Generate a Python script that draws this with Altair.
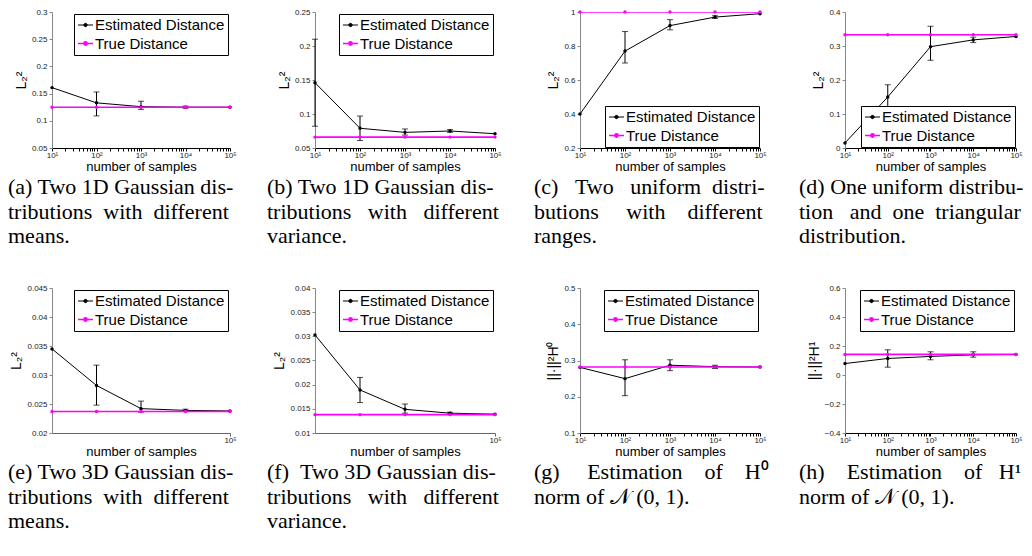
import altair as alt
import pandas as pd

samples = [10, 100, 1000, 10000, 100000]
x_major = [10, 100, 1000, 10000, 100000]
x_minor = [20, 30, 40, 50, 60, 70, 80, 90,
           200, 300, 400, 500, 600, 700, 800, 900,
           2000, 3000, 4000, 5000, 6000, 7000, 8000, 9000,
           20000, 30000, 40000, 50000, 60000, 70000, 80000, 90000]
series_names = ["Estimated Distance", "True Distance"]

# (a)
a_est = [0.161, 0.133, 0.126, 0.125, 0.125]
a_lo = [None, 0.109, 0.121, 0.123, None]
a_hi = [None, 0.153, 0.136, 0.127, None]
a_true = 0.125
a_yticks = [0.05, 0.1, 0.15, 0.2, 0.25, 0.3]
# (b)
b_est = [0.146, 0.079, 0.073, 0.075, 0.071]
b_lo = [0.082, 0.061, 0.069, 0.073, None]
b_hi = [0.210, 0.097, 0.078, 0.077, None]
b_true = 0.066
b_yticks = [0.05, 0.1, 0.15, 0.2, 0.25]
# (c)
c_est = [0.40, 0.77, 0.92, 0.97, 0.99]
c_lo = [None, 0.70, 0.895, 0.962, None]
c_hi = [None, 0.885, 0.955, 0.978, None]
c_true = 1.0
c_yticks = [0.2, 0.4, 0.6, 0.8, 1]
# (d)
d_est = [0.015, 0.15, 0.298, 0.318, 0.328]
d_lo = [None, 0.114, 0.258, 0.310, None]
d_hi = [None, 0.186, 0.358, 0.326, None]
d_true = 0.333
d_yticks = [0, 0.1, 0.2, 0.3, 0.4]
# (e)
e_est = [0.0345, 0.0282, 0.0242, 0.0239, 0.0238]
e_lo = [None, 0.0248, 0.0236, 0.0237, None]
e_hi = [None, 0.0317, 0.0255, 0.0241, None]
e_true = 0.0237
e_yticks = [0.02, 0.025, 0.03, 0.035, 0.04, 0.045]
# (f)
f_est = [0.0303, 0.0189, 0.0149, 0.0141, 0.0139]
f_lo = [None, 0.0163, 0.0141, 0.0139, None]
f_hi = [None, 0.0215, 0.0160, 0.0143, None]
f_true = 0.0138
f_yticks = [0.01, 0.015, 0.02, 0.025, 0.03, 0.035, 0.04]
# (g)
g_est = [0.281, 0.25, 0.287, 0.283, 0.282]
g_lo = [None, 0.203, 0.272, 0.278, None]
g_hi = [None, 0.302, 0.302, 0.287, None]
g_true = 0.282
g_yticks = [0.1, 0.2, 0.3, 0.4, 0.5]
# (h)
h_est = [0.079, 0.114, 0.128, 0.139, 0.142]
h_lo = [None, 0.054, 0.105, 0.123, None]
h_hi = [None, 0.174, 0.160, 0.160, None]
h_true = 0.142
h_yticks = [-0.4, -0.2, 0, 0.2, 0.4, 0.6]

l2_title = "L\u2082\u00b2"
captions = {
    "a": ["(a) Two 1D Gaussian dis-", "tributions with different", "means."],
    "b": ["(b) Two 1D Gaussian dis-", "tributions with different", "variance."],
    "c": ["(c) Two uniform distri-", "butions with different", "ranges."],
    "d": ["(d) One uniform distribu-", "tion and one triangular", "distribution."],
    "e": ["(e) Two 3D Gaussian dis-", "tributions with different", "means."],
    "f": ["(f) Two 3D Gaussian dis-", "tributions with different", "variance."],
    "g": ["(g) Estimation of H\u2070", "norm of \U0001D4A9 (0, 1)."],
    "h": ["(h) Estimation of H\u00b9", "norm of \U0001D4A9 (0, 1)."],
}

CAP_FS = 22
# Times-like advance widths (em) used only to spread caption words like justified text
_TW = {" ": .25, "(": .333, ")": .333, "-": .333, ".": .25, ",": .25, "a": .444, "b": .5,
       "c": .444, "d": .5, "e": .444, "f": .333, "g": .5, "h": .5, "i": .278, "l": .278,
       "m": .778, "n": .5, "o": .5, "p": .5, "r": .333, "s": .389, "t": .278, "u": .5,
       "v": .5, "w": .722, "y": .5, "T": .611, "D": .722, "G": .722, "O": .722, "E": .611,
       "H": .722, "1": .5, "3": .5, "0": .5, "\u2070": .3, "\u00b9": .3}


def justify(lines, target):
    out = []
    for k, line in enumerate(lines):
        if k == len(lines) - 1:
            out.append(line)
            continue
        words = line.split(" ")
        gaps = len(words) - 1
        nat = sum(_TW.get(ch, .5) for ch in line) * CAP_FS
        n = max(0, int(round((target - nat) / (0.25 * CAP_FS) - 0.2)))
        per = [n // gaps + (1 if i < n % gaps else 0) for i in range(gaps)]
        s = words[0]
        for i, w in enumerate(words[1:]):
            s += " " + "\u00a0" * per[i] + w
        out.append(s)
    return out


xlab = ("datum.value == 10 ? '10\u00b9' : datum.value == 100 ? '10\u00b2' : "
        "datum.value == 1000 ? '10\u00b3' : datum.value == 10000 ? '10\u2074' : "
        "datum.value == 100000 ? '10\u2075' : ''")

sym_path = "M-1,0L1,0M-0.22,0A0.22,0.22,0,1,0,0.22,0A0.22,0.22,0,1,0,-0.22,0Z"


def panel(est, lo, hi, true, yticks, ytitle, lorient, caption, dx, width, height,
          xvals, xdomain="black", loffset=2, cap_offset=4):
    est_df = pd.DataFrame({"n": samples, "value": est, "series": series_names[0]})
    tru_df = pd.DataFrame({"n": samples, "value": [true] * len(samples), "series": series_names[1]})
    lines = pd.concat([est_df, tru_df], ignore_index=True)
    err = pd.DataFrame({"n": samples, "lo": lo, "hi": hi}).dropna()
    caps = pd.concat([
        err[["n", "lo"]].rename(columns={"lo": "value"}),
        err[["n", "hi"]].rename(columns={"hi": "value"}),
    ], ignore_index=True)

    xaxis = alt.Axis(values=xvals, labelExpr=xlab, title="number of samples",
                     tickSize=3, labelPadding=0, titlePadding=1, grid=False,
                     domainColor=xdomain, tickColor=xdomain, labelFlush=False)
    yaxis = alt.Axis(values=yticks, format="~g", title=ytitle, tickSize=3,
                     labelPadding=2, titlePadding=3, grid=False, titleFontSize=14)
    xs = alt.Scale(type="log", domain=[10, 100000], nice=False)
    ys = alt.Scale(domain=[yticks[0], yticks[-1]], nice=False, zero=False)
    cscale = alt.Scale(domain=series_names, range=["black", "#ff00ff"])
    legend = alt.Legend(title=None, orient=lorient, offset=loffset, fillColor="white",
                        strokeColor="black", padding=3, labelFontSize=15,
                        labelFont="Liberation Sans", labelColor="black",
                        symbolType=sym_path, symbolSize=225, symbolStrokeWidth=1,
                        labelOffset=1, rowPadding=2, labelLimit=300)
    color = alt.Color("series:N", scale=cscale, legend=legend)

    rules = alt.Chart(err).mark_rule(color="black", strokeWidth=1).encode(
        x=alt.X("n:Q", scale=xs, axis=xaxis),
        y=alt.Y("lo:Q", scale=ys, axis=yaxis),
        y2="hi:Q",
    )
    ticks = alt.Chart(caps).mark_tick(color="black", orient="horizontal", size=6, thickness=1).encode(
        x=alt.X("n:Q", scale=xs, axis=xaxis),
        y=alt.Y("value:Q", scale=ys, axis=yaxis),
    )
    line = alt.Chart(lines).mark_line(clip=True).encode(
        x=alt.X("n:Q", scale=xs, axis=xaxis),
        y=alt.Y("value:Q", scale=ys, axis=yaxis),
        color=color,
        strokeWidth=alt.StrokeWidth("series:N", scale=alt.Scale(domain=series_names, range=[1, 1.6]), legend=None),
    )
    pts = alt.Chart(lines).mark_point(filled=True, size=12, opacity=1).encode(
        x=alt.X("n:Q", scale=xs, axis=xaxis),
        y=alt.Y("value:Q", scale=ys, axis=yaxis),
        color=color,
    )
    return alt.layer(rules, ticks, line, pts).properties(
        width=width, height=height,
        title=alt.TitleParams(text=caption, orient="bottom", anchor="start", frame="group",
                              dx=dx, offset=cap_offset, font="Liberation Serif", fontSize=CAP_FS,
                              fontWeight="normal", lineHeight=24.5, color="black"),
    )


xv_full = x_major + x_minor
H1, H2 = 136, 145
W = [178, 180, 180, 171]
TGT = [224, 232, 232, 222]
DX = [-44, -48, -46, -46]

pa = panel(a_est, a_lo, a_hi, a_true, a_yticks, l2_title, "top-right", justify(captions["a"], TGT[0]), DX[0], W[0], H1, xv_full)
pb = panel(b_est, b_lo, b_hi, b_true, b_yticks, l2_title, "top-right", justify(captions["b"], TGT[1]), DX[1], W[1], H1, xv_full)
pc = panel(c_est, c_lo, c_hi, c_true, c_yticks, l2_title, "bottom-right", justify(captions["c"], TGT[2]), DX[2], W[2], H1, xv_full, loffset=1)
pd_ = panel(d_est, d_lo, d_hi, d_true, d_yticks, l2_title, "bottom-right", justify(captions["d"], TGT[3]), DX[3], W[3], H1, xv_full, loffset=1)
pe = panel(e_est, e_lo, e_hi, e_true, e_yticks, l2_title, "top-right", justify(captions["e"], TGT[0]), DX[0], W[0], H2, [100000], "#666")
pf = panel(f_est, f_lo, f_hi, f_true, f_yticks, l2_title, "top-right", justify(captions["f"], TGT[1]), DX[1], W[1], H2, [100000], "#666")
pg = panel(g_est, g_lo, g_hi, g_true, g_yticks, "||\u00b7||\u00b2H\u2070", "top-right", justify(captions["g"], TGT[2]), DX[2], W[2], H2, xv_full)
ph = panel(h_est, h_lo, h_hi, h_true, h_yticks, "||\u00b7||\u00b2H\u00b9", "top-right", justify(captions["h"], TGT[3]), DX[3], W[3], H2, xv_full)

chart = alt.concat(
    pa, pb, pc, pd_, pe, pf, pg, ph,
    columns=4, spacing={"row": 140, "column": 85}, bounds="flush", align="each",
).resolve_scale(
    color="independent", strokeWidth="independent", x="independent", y="independent"
).resolve_legend(color="independent").configure_view(stroke=None).configure_axis(
    labelFont="Liberation Sans", labelFontSize=8, labelColor="#222",
    titleFont="Liberation Sans", titleFontSize=13, titleFontWeight="normal", titleColor="black",
    domainWidth=1,
).properties(padding={"left": 0, "top": 0, "right": 0, "bottom": 0}, background="white")

chart.save("out.html", embed_options={"renderer": "svg", "actions": False})
